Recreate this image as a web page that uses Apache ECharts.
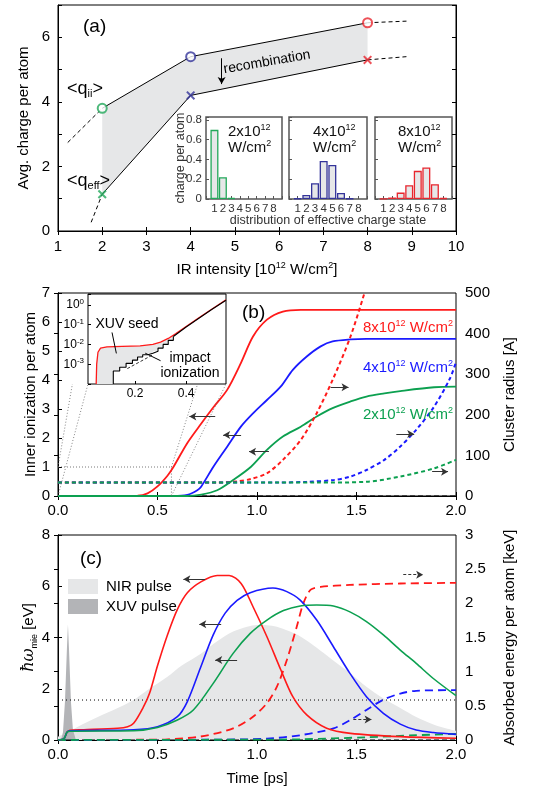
<!DOCTYPE html>
<html>
<head>
<meta charset="utf-8">
<script src="https://cdn.jsdelivr.net/npm/echarts@6.0.0/dist/echarts.min.js"></script>
<style>
html,body{margin:0;padding:0;background:#fff;}
#chart{width:537px;height:791px;}
</style>
</head>
<body>
<div id="chart"></div>
<script>
// ===== Panel (a) data =====
const intensity = [2, 4, 8];
const qii = [3.8, 5.4, 6.45];
const qeff = [1.14, 4.2, 5.3];
const qiiExtLeft = [[1.22, 2.74], [2, 3.8]];
const qiiExtRight = [[8, 6.45], [8.88, 6.5]];
const qeffExtLeft = [[1.75, 0.27], [2, 1.14]];
const qeffExtRight = [[8, 5.3], [8.88, 5.4]];
const recombArrow = [[4.7, 5.35], [4.7, 4.55]];
const chargeStates = [1, 2, 3, 4, 5, 6, 7, 8];
const dist2 = [0.7, 0.22, 0.01, 0, 0, 0, 0, 0];
const dist4 = [0.005, 0.04, 0.16, 0.385, 0.345, 0.06, 0.005, 0];
const dist8 = [0.003, 0.015, 0.065, 0.14, 0.285, 0.32, 0.15, 0.01];

// ===== Panel (b) data =====
const bRed = [[0,0],[0.4,0.01],[0.45,0.09],[0.5,0.33],[0.55,0.7],[0.58,1.0],[0.65,1.83],[0.72,2.5],[0.78,3.05],[0.85,3.66],[0.92,4.6],[0.98,5.5],[1.05,6.08],[1.13,6.36],[1.22,6.42],[2.0,6.42]];
const bBlue = [[0,0],[0.58,0],[0.65,0.04],[0.7,0.2],[0.72,0.33],[0.78,1.0],[0.85,1.7],[0.92,2.4],[0.98,2.85],[1.05,3.31],[1.12,3.78],[1.18,4.35],[1.25,4.81],[1.32,5.16],[1.38,5.33],[1.47,5.4],[1.55,5.42],[2.0,5.42]];
const bGreen = [[0,0],[0.65,0],[0.72,0.05],[0.8,0.2],[0.88,0.55],[0.97,1.01],[1.05,1.59],[1.13,2.05],[1.22,2.39],[1.3,2.74],[1.38,3.03],[1.47,3.26],[1.55,3.43],[1.64,3.54],[1.72,3.62],[1.89,3.75],[2.0,3.77]];
const bRedRadius = [[0,33],[0.8,33],[0.9,36],[0.97,42],[1.05,56],[1.13,89],[1.22,138],[1.3,204],[1.38,286],[1.47,393],[1.54,500]];
const bBlueRadius = [[0,33],[1.1,33],[1.25,35],[1.38,39],[1.47,48],[1.55,64],[1.64,89],[1.72,122],[1.8,163],[1.89,220],[1.97,290],[2.0,330]];
const bGreenRadius = [[0,33],[1.3,33],[1.55,35],[1.72,48],[1.89,68],[2.0,89]];
const bBaseline = [[0,0],[2,0]];
const bZoomBox = [[0,1],[0.57,1],[0.57,0]];
const bZoomX = [0, 0.57];
const bZoomY = [0, 1];
const bArrowsLeft = [[[0.79,2.74],[0.66,2.74]],[[0.92,2.1],[0.83,2.1]],[[1.06,1.53],[0.96,1.53]]];
const bArrowsRight = [[[1.37,3.75],[1.46,3.75]],[[1.7,2.14],[1.79,2.14]],[[1.88,0.84],[1.96,0.84]]];
// inset (b), log scale
const inRange = [0.016, 0.556];
const inRed = [[0.048,1e-4],[0.05,1e-3],[0.055,4e-3],[0.065,6.5e-3],[0.09,7.5e-3],[0.15,8e-3],[0.22,8.5e-3],[0.27,1.0e-2],[0.3,1.3e-2],[0.33,2e-2],[0.36,3.5e-2],[0.4,8e-2],[0.45,0.22],[0.5,0.6],[0.556,1.8]];
const inStair = [[0.115,1e-4],[0.115,4.5e-4],[0.14,7e-4],[0.165,1.1e-3],[0.19,1.6e-3],[0.21,2.3e-3],[0.23,3e-3],[0.25,3.6e-3],[0.27,4.5e-3],[0.29,6.5e-3],[0.31,1e-2],[0.33,1.6e-2],[0.35,2.5e-2]];
const inBlackLin = [[0.35,2.5e-2],[0.4,7.5e-2],[0.45,0.21],[0.5,0.58],[0.556,1.7]];
const inDash = [[0.17,6e-4],[0.27,3e-3]];
const inPointerSeed = [[0.11,4e-2],[0.127,3.5e-3]];
const inPointerImpact = [[0.30,1.5e-3],[0.24,3.6e-3]];

// ===== Panel (c) data =====
const cNIR = [[0,0.13],[0.05,0.3],[0.1,0.52],[0.2,0.9],[0.3,1.25],[0.38,1.56],[0.45,1.95],[0.55,2.47],[0.62,2.9],[0.72,3.38],[0.8,3.85],[0.88,4.23],[0.95,4.42],[1.0,4.49],[1.05,4.48],[1.1,4.42],[1.16,4.25],[1.22,4.03],[1.3,3.6],[1.38,3.12],[1.47,2.6],[1.55,2.08],[1.63,1.65],[1.72,1.25],[1.8,0.9],[1.89,0.6],[2.0,0.36]];
const cXUV = [[0.015,0],[0.025,0.3],[0.035,1.5],[0.045,3.6],[0.05,4.5],[0.055,3.6],[0.065,1.5],[0.075,0.4],[0.09,0]];
const cRed = [[0,0],[0.03,0.05],[0.045,0.3],[0.06,0.38],[0.13,0.4],[0.3,0.46],[0.35,0.52],[0.38,0.65],[0.43,1.3],[0.46,1.82],[0.5,2.9],[0.55,4.1],[0.6,5.1],[0.65,5.75],[0.72,6.18],[0.8,6.42],[0.86,6.42],[0.92,6.11],[0.98,5.2],[1.05,4.03],[1.12,2.73],[1.18,1.69],[1.25,0.98],[1.35,0.46],[1.47,0.26],[1.72,0.13],[2.0,0.07]];
const cBlue = [[0,0],[0.03,0.05],[0.045,0.3],[0.06,0.36],[0.38,0.4],[0.5,0.52],[0.6,0.91],[0.65,1.5],[0.715,2.8],[0.78,4.1],[0.84,4.95],[0.9,5.45],[0.966,5.75],[1.08,5.93],[1.15,5.79],[1.217,5.46],[1.3,4.68],[1.384,3.64],[1.467,2.6],[1.55,1.69],[1.635,1.04],[1.72,0.62],[1.8,0.39],[1.886,0.29],[2.0,0.22]];
const cGreen = [[0,0],[0.03,0.05],[0.045,0.3],[0.06,0.34],[0.38,0.36],[0.5,0.49],[0.6,0.78],[0.68,1.17],[0.78,2.21],[0.88,3.38],[0.966,4.16],[1.05,4.68],[1.133,5.05],[1.217,5.23],[1.3,5.27],[1.384,5.23],[1.467,5.0],[1.55,4.62],[1.635,4.1],[1.72,3.51],[1.8,2.99],[1.886,2.4],[2.0,1.73]];
const cRedEnergy = [[0,0],[0.5,0.005],[0.55,0.01],[0.715,0.05],[0.88,0.17],[0.98,0.34],[1.05,0.54],[1.1,0.78],[1.15,1.17],[1.2,1.66],[1.233,2.0],[1.27,2.2],[1.32,2.24],[1.467,2.27],[1.72,2.29],[2.0,2.3]];
const cBlueEnergy = [[0,0],[0.8,0.005],[1.05,0.02],[1.217,0.07],[1.384,0.17],[1.467,0.29],[1.55,0.44],[1.635,0.59],[1.72,0.68],[1.8,0.72],[2.0,0.73]];
const cGreenEnergy = [[0,0],[1.0,0.005],[1.217,0.01],[1.55,0.04],[1.8,0.07],[2.0,0.09]];
const cDotted = [[0,1.56],[2,1.56]];
const cBaseline = [[0,0],[2,0]];
const cArrowsLeft = [[[0.74,6.27],[0.63,6.27]],[[0.82,4.52],[0.71,4.52]],[[0.9,3.12],[0.79,3.12]]];
const cArrowsRight = [[[1.735,2.42],[1.835,2.42]],[[1.484,0.3],[1.576,0.3]]];

// ===== styling =====
const FONT = 'Liberation Sans, Arial, Helvetica, sans-serif';
const RED = '#ff1a1a', BLUE = '#1a1aff', GREEN = '#0ca050';
const RED_A = '#e8262e', BLUE_A = '#34349a', GREEN_A = '#22a85a';
const FILL = '#e6e7e8', XUVFILL = '#b3b4b7';

function ax(o) {
  const base = {
    nameMoveOverlap: false,
    axisLine: {show: true, lineStyle: {color: '#000', width: 1}},
    axisTick: {show: true, inside: true, length: 4, lineStyle: {color: '#000'}},
    axisLabel: {color: '#000', fontSize: 15, fontFamily: FONT, margin: 8},
    splitLine: {show: false},
    nameTextStyle: {color: '#000', fontSize: 15, fontFamily: FONT}
  };
  const r = Object.assign({}, base, o);
  if (o.axisLabel) r.axisLabel = Object.assign({}, base.axisLabel, o.axisLabel);
  if (o.axisTick) r.axisTick = Object.assign({}, base.axisTick, o.axisTick);
  if (o.nameTextStyle) r.nameTextStyle = Object.assign({}, base.nameTextStyle, o.nameTextStyle);
  return r;
}
const noLbl = {show: false};
const supRich = {
  n: {fontSize: 15, fontFamily: FONT, color: '#000', lineHeight: 17},
  s: {fontSize: 9, fontFamily: FONT, color: '#000', lineHeight: 9, verticalAlign: 'top'},
  i: {fontSize: 16, fontFamily: 'DejaVu Serif, serif', fontStyle: 'italic', color: '#000', lineHeight: 20},
  b: {fontSize: 9, fontFamily: FONT, color: '#000', lineHeight: 9, verticalAlign: 'bottom'}
};

function line(data, xa, ya, color, width, type, extra) {
  return Object.assign({
    type: 'line', xAxisIndex: xa, yAxisIndex: ya, data: data,
    symbol: 'none', showSymbol: false, silent: true, clip: true,
    lineStyle: {color: color, width: width, type: type || 'solid'}, z: 3
  }, extra || {});
}
function sm(extra) { return Object.assign({smooth: 0.3}, extra || {}); }
function arrows(pairs, color, type, plain) {
  return {
    silent: true, symbol: plain ? ['none', 'none'] : ['none', 'arrow'], symbolSize: [6, 7],
    label: {show: false}, emphasis: {disabled: true},
    lineStyle: {color: color, width: 1, type: type || 'solid'},
    data: pairs.map(p => [{coord: p[0]}, {coord: p[1]}])
  };
}
function polyRender(upper, lower, fill) {
  return function (params, api) {
    const pts = [];
    upper.forEach(p => pts.push(api.coord(p)));
    for (let i = lower.length - 1; i >= 0; i--) pts.push(api.coord(lower[i]));
    return {type: 'polygon', shape: {points: pts}, style: {fill: fill}};
  };
}
const upperA = intensity.map((x, i) => [x, qii[i]]);
const lowerA = intensity.map((x, i) => [x, qeff[i]]);
// expand staircase corners (step 'end') for fill outline
const stairOutline = [];
inStair.forEach((p, i) => {
  if (i > 0) stairOutline.push([p[0], inStair[i - 1][1]]);
  stairOutline.push(p);
});
const lowerInset = stairOutline.concat(inBlackLin.slice(1));
const barData = d => chargeStates.map((c, i) => [c, d[i]]).filter(p => p[1] > 0);

const XPATH = 'path://M0,1.6 L1.6,0 L5,3.4 L8.4,0 L10,1.6 L6.6,5 L10,8.4 L8.4,10 L5,6.6 L1.6,10 L0,8.4 L3.4,5 Z';
const colsA = [GREEN_A, BLUE_A, RED_A];

function insetX(i) {
  return ax({gridIndex: i, type: 'value', min: 0, max: 9, interval: 1,
    axisLine: {show: false},
    axisTick: {length: 3, lineStyle: {color: '#555'}},
    axisLabel: {fontSize: 11.5, color: '#333', margin: 4, formatter: v => (v >= 1 && v <= 8) ? String(v) : ''}});
}
function insetY(i, showLbl) {
  const o = {gridIndex: i, type: 'value', min: 0, max: 0.83, interval: 0.2,
    axisLine: {show: false},
    axisTick: {length: 3, lineStyle: {color: '#555'}},
    axisLabel: showLbl ? {fontSize: 11.5, color: '#333', margin: 4,
      formatter: v => { const k = Math.round(v * 5); return Math.abs(v * 5 - k) < 1e-6 ? (k === 0 ? '0' : (k / 5).toFixed(1)) : ''; }} : noLbl};
  if (showLbl) {
    o.name = 'charge per atom'; o.nameLocation = 'middle'; o.nameGap = 19;
    o.nameTextStyle = {fontSize: 12.5, color: '#333'};
  }
  return ax(o);
}

const option = {
  animation: false,
  backgroundColor: '#fff',
  textStyle: {fontFamily: FONT},
  grid: [
    {left: 58, top: 5, width: 398, height: 226, show: true, borderColor: '#000', borderWidth: 1},
    {left: 206, top: 117, width: 76, height: 82, show: true, borderColor: '#555', borderWidth: 1.5, backgroundColor: '#fff'},
    {left: 289, top: 117, width: 78, height: 82, show: true, borderColor: '#555', borderWidth: 1.5, backgroundColor: '#fff'},
    {left: 375, top: 117, width: 77, height: 82, show: true, borderColor: '#555', borderWidth: 1.5, backgroundColor: '#fff'},
    {left: 58, top: 293, width: 398, height: 203, show: true, borderColor: '#000', borderWidth: 1},
    {left: 88, top: 294, width: 138, height: 90, show: true, borderColor: '#000', borderWidth: 1, backgroundColor: '#fff'},
    {left: 58, top: 535, width: 398, height: 205, show: true, borderColor: '#000', borderWidth: 1}
  ],
  xAxis: [
    ax({gridIndex: 0, type: 'value', min: 1, max: 10, interval: 1,
      name: '{n|IR intensity [10}{s|12}{n| W/cm}{s|2}{n|]}', nameLocation: 'middle', nameGap: 30,
      nameTextStyle: {rich: supRich}}),
    ax({gridIndex: 0, type: 'value', min: 1, max: 10, interval: 1, position: 'top', axisLabel: noLbl}),
    insetX(1), insetX(2), insetX(3),
    ax({gridIndex: 4, type: 'value', min: 0, max: 2, interval: 0.5, axisLabel: {margin: 7, formatter: v => v.toFixed(1)}}),
    ax({gridIndex: 4, type: 'value', min: 0, max: 2, interval: 0.5, position: 'top', axisLabel: noLbl}),
    ax({gridIndex: 5, type: 'value', min: inRange[0], max: inRange[1],
      axisLine: {show: false},
      axisTick: {length: 3, customValues: [0.2, 0.4]},
      axisLabel: {fontSize: 12, margin: 4, customValues: [0.2, 0.4], formatter: v => v.toFixed(1)}}),
    ax({gridIndex: 6, type: 'value', min: 0, max: 2, interval: 0.5, axisLabel: {margin: 7, formatter: v => v.toFixed(1)},
      name: 'Time [ps]', nameLocation: 'middle', nameGap: 31}),
    ax({gridIndex: 6, type: 'value', min: 0, max: 2, interval: 0.5, position: 'top', axisLabel: noLbl})
  ],
  yAxis: [
    ax({gridIndex: 0, type: 'value', min: 0, max: 7, interval: 1,
      axisLabel: {formatter: v => (v % 2 === 0 && v <= 6) ? String(v) : ''},
      name: 'Avg. charge per atom', nameLocation: 'middle', nameGap: 27}),
    ax({gridIndex: 0, type: 'value', min: 0, max: 7, interval: 1, position: 'right', axisLabel: noLbl}),
    insetY(1, true), insetY(2, false), insetY(3, false),
    ax({gridIndex: 4, type: 'value', min: 0, max: 7, interval: 1,
      name: 'Inner ionization per atom', nameLocation: 'middle', nameGap: 20}),
    ax({gridIndex: 4, type: 'value', min: 0, max: 500, interval: 100, position: 'right',
      axisLabel: {margin: 9},
      name: 'Cluster radius [A]', nameLocation: 'middle', nameGap: 46, nameRotate: 90}),
    ax({gridIndex: 5, type: 'log', logBase: 10, min: 1e-4, max: 3.5,
      axisLine: {show: false},
      axisTick: {length: 3},
      axisLabel: {fontSize: 12, margin: 4, rich: {s: {fontSize: 8, verticalAlign: 'top', lineHeight: 8, fontFamily: FONT}, n: {fontSize: 12, lineHeight: 14, fontFamily: FONT}},
        formatter: v => { const e = Math.round(Math.log10(v)); if (Math.abs(Math.log10(v) - e) > 0.01 || e < -3 || e > 0) return ''; return '{n|10}{s|' + e + '}'; }}}),
    ax({gridIndex: 6, type: 'value', min: 0, max: 8, interval: 2,
      name: '{i|ħω}{b|mie}{n| [eV]}', nameLocation: 'middle', nameGap: 19,
      nameTextStyle: {rich: supRich}}),
    ax({gridIndex: 6, type: 'value', min: 0, max: 3, interval: 0.5, position: 'right',
      axisLabel: {margin: 9, formatter: v => String(v)},
      name: 'Absorbed energy per atom [keV]', nameLocation: 'middle', nameGap: 46, nameRotate: 90})
  ],
  series: [
    // ---- panel (a)
    {type: 'custom', xAxisIndex: 0, yAxisIndex: 0, data: [[4, 4]], silent: true, z: 1, clip: true,
      renderItem: polyRender(upperA, lowerA, FILL)},
    line(upperA, 0, 0, '#000', 1, 'solid', {markLine: arrows([recombArrow], '#000')}),
    line(lowerA, 0, 0, '#000', 1),
    line(qiiExtLeft, 0, 0, '#000', 1, [4, 3]),
    line(qiiExtRight, 0, 0, '#000', 1, [4, 3]),
    line(qeffExtLeft, 0, 0, '#000', 1, [4, 3]),
    line(qeffExtRight, 0, 0, '#000', 1, [4, 3]),
    {type: 'scatter', xAxisIndex: 0, yAxisIndex: 0, silent: true, z: 5, symbol: 'emptyCircle', symbolSize: 9,
      data: upperA.map((p, i) => ({value: p, itemStyle: {color: colsA[i], borderColor: colsA[i], borderWidth: 1.3}}))},
    {type: 'scatter', xAxisIndex: 0, yAxisIndex: 0, silent: true, z: 5, symbol: XPATH, symbolSize: 9,
      data: lowerA.map((p, i) => ({value: p, itemStyle: {color: colsA[i]}}))},
    // insets (a)
    {type: 'bar', xAxisIndex: 2, yAxisIndex: 2, barWidth: 8, silent: true,
      data: barData(dist2), itemStyle: {color: FILL, borderColor: GREEN_A, borderWidth: 1.3}},
    {type: 'bar', xAxisIndex: 3, yAxisIndex: 3, barWidth: 8, silent: true,
      data: barData(dist4), itemStyle: {color: FILL, borderColor: BLUE_A, borderWidth: 1.3}},
    {type: 'bar', xAxisIndex: 4, yAxisIndex: 4, barWidth: 8, silent: true,
      data: barData(dist8), itemStyle: {color: FILL, borderColor: RED_A, borderWidth: 1.3}},
    // ---- panel (b)
    line(bBaseline, 5, 5, '#000', 1, [5, 3]),
    line(bZoomBox, 5, 5, '#555', 0.8, [1, 2], {markLine: arrows(bArrowsLeft, '#333')}),
    line(bRedRadius, 5, 6, RED, 2, [4, 3], sm({z: 4})),
    line(bBlueRadius, 5, 6, BLUE, 2, [4, 3], sm({z: 4})),
    line(bGreenRadius, 5, 6, GREEN, 2, [4, 3], sm({z: 4})),
    line(bRed, 5, 5, RED, 1.8, 'solid', sm()),
    line(bBlue, 5, 5, BLUE, 1.8, 'solid', sm()),
    line(bGreen, 5, 5, GREEN, 1.8, 'solid', sm({markLine: arrows(bArrowsRight, '#333')})),
    // inset (b)
    {type: 'custom', xAxisIndex: 7, yAxisIndex: 7, data: [[0.2, 1e-2]], silent: true, z: 1, clip: true,
      renderItem: polyRender(inRed, lowerInset, FILL)},
    line(inDash, 7, 7, '#000', 0.8, [3, 2]),
    line(inRed, 7, 7, RED, 1.3, 'solid', {markLine: arrows([inPointerSeed, inPointerImpact], '#000', 'solid', true)}),
    line(inStair, 7, 7, '#000', 1.1, 'solid', {step: 'end'}),
    line(inBlackLin, 7, 7, '#000', 1.1),
    // ---- panel (c)
    line(cNIR, 8, 8, FILL, 0, 'solid', sm({areaStyle: {color: FILL, opacity: 1}, z: 1})),
    line(cXUV, 8, 8, XUVFILL, 0, 'solid', {areaStyle: {color: XUVFILL, opacity: 1}, z: 1}),
    line(cDotted, 8, 8, '#000', 1, [1, 3], {markLine: arrows(cArrowsLeft, '#333')}),
    line(cBaseline, 8, 8, '#000', 1, [5, 3]),
    line(cRedEnergy, 8, 9, RED, 1.8, [8, 5], sm({markLine: arrows(cArrowsRight, '#333', [3, 2])})),
    line(cBlueEnergy, 8, 9, BLUE, 1.8, [8, 5], sm()),
    line(cGreenEnergy, 8, 9, GREEN, 1.8, [8, 5], sm()),
    line(cRed, 8, 8, RED, 1.6, 'solid', sm()),
    line(cBlue, 8, 8, BLUE, 1.6, 'solid', sm()),
    line(cGreen, 8, 8, GREEN, 1.6, 'solid', sm())
  ]
};

const chart = echarts.init(document.getElementById('chart'), null, {renderer: 'canvas'});
chart.setOption(option);

// ---- annotations
function txt(x, y, text, size, color, align, extra) {
  return Object.assign({type: 'text', x: x, y: y, z: 20, silent: true,
    style: {text: text, fontSize: size, fontFamily: FONT, fill: color || '#000',
      align: align || 'left', verticalAlign: 'middle'}}, extra || {});
}
function rtxt(x, y, text, size, color, align) {
  const rich = {
    n: {fontSize: size, fontFamily: FONT, fill: color, lineHeight: size + 3},
    s: {fontSize: Math.round(size * 0.62), fontFamily: FONT, fill: color, lineHeight: Math.round(size * 0.62), verticalAlign: 'top'},
    b: {fontSize: Math.round(size * 0.62), fontFamily: FONT, fill: color, lineHeight: Math.round(size * 0.62), verticalAlign: 'bottom'}
  };
  return {type: 'text', x: x, y: y, z: 20, silent: true,
    style: {text: text, rich: rich, fontSize: size, fontFamily: FONT, fill: color, align: align || 'left', verticalAlign: 'middle'}};
}
const g = [];
g.push(txt(83, 27, '(a)', 19));
g.push(rtxt(67, 89, '{n|<q}{b|ii}{n|>}', 18, '#000'));
g.push(rtxt(67, 181, '{n|<q}{b|eff}{n|>}', 18, '#000'));
g.push(txt(267, 62, 'recombination', 14, '#000', 'center', {rotation: 0.17}));
[['2', 228], ['4', 313], ['8', 398]].forEach(a => {
  g.push(rtxt(a[1], 132, '{n|' + a[0] + 'x10}{s|12}', 15, '#111'));
  g.push(rtxt(a[1], 148, '{n|W/cm}{s|2}', 15, '#111'));
});
g.push(txt(328, 221, 'distribution of effective charge state', 12.5, '#333', 'center'));
g.push(txt(242, 313, '(b)', 19));
g.push(rtxt(453, 328, '{n|8x10}{s|12}{n| W/cm}{s|2}', 15, RED, 'right'));
g.push(rtxt(453, 368, '{n|4x10}{s|12}{n| W/cm}{s|2}', 15, BLUE, 'right'));
g.push(rtxt(453, 415, '{n|2x10}{s|12}{n| W/cm}{s|2}', 15, GREEN, 'right'));
g.push(txt(127, 324, 'XUV seed', 14, '#000', 'center'));
g.push(txt(190, 358, 'impact', 14, '#000', 'center'));
g.push(txt(190, 373, 'ionization', 14, '#000', 'center'));
g.push(txt(80, 559, '(c)', 19));
g.push({type: 'rect', shape: {x: 68, y: 579, width: 30, height: 15}, style: {fill: FILL}, z: 20, silent: true});
g.push({type: 'rect', shape: {x: 68, y: 599, width: 30, height: 15}, style: {fill: XUVFILL}, z: 20, silent: true});
g.push(txt(106, 587, 'NIR pulse', 15));
g.push(txt(106, 607, 'XUV pulse', 15));

// zoom connector lines (panel b): rectangle corners -> inset corners, clipped at inset bottom
const P = (xa, ya, v) => chart.convertToPixel({xAxisIndex: xa, yAxisIndex: ya}, v);
const inBL = P(7, 7, [inRange[0], 1e-4]), inBR = P(7, 7, [inRange[1], 1e-4]);
const inTL = P(7, 7, [inRange[0], 3.5]), inTR = P(7, 7, [inRange[1], 3.5]);
function conn(a, b) {
  let end = b;
  if (b[1] < inBL[1] - 1) {
    const t = (a[1] - inBL[1]) / (a[1] - b[1]);
    end = [a[0] + (b[0] - a[0]) * t, inBL[1]];
  }
  g.push({type: 'line', shape: {x1: a[0], y1: a[1], x2: end[0], y2: end[1]}, z: 10, silent: true,
    style: {stroke: '#666', lineWidth: 0.8, lineDash: [1, 2]}});
}
conn(P(5, 5, [bZoomX[0], bZoomY[0]]), inBL);
conn(P(5, 5, [bZoomX[0], bZoomY[1]]), inTL);
conn(P(5, 5, [bZoomX[1], bZoomY[0]]), inBR);
conn(P(5, 5, [bZoomX[1], bZoomY[1]]), inTR);
chart.setOption({graphic: g});
</script>
</body>
</html>
